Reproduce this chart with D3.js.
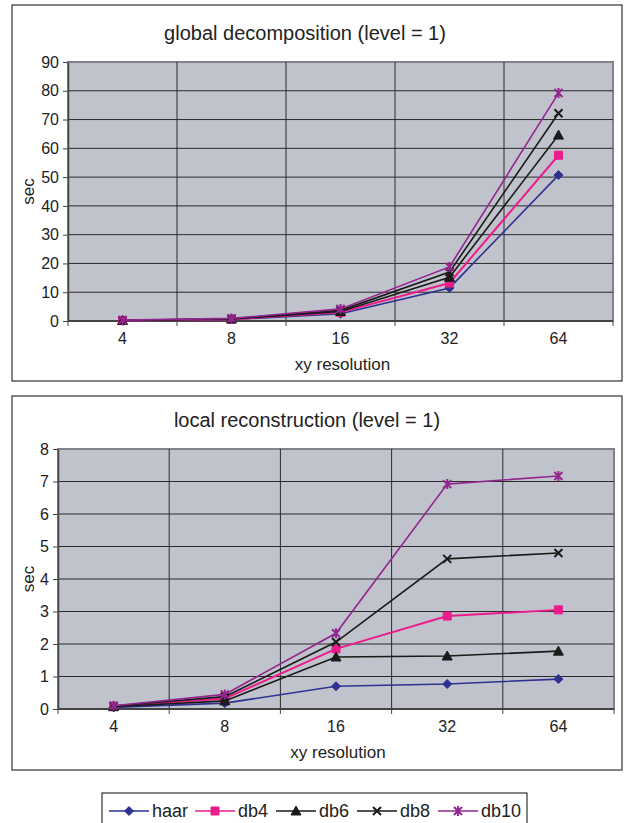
<!DOCTYPE html>
<html lang="en">
<head>
    <meta charset="utf-8">
    <title>Wavelet timings</title>
    <script src="https://d3js.org/d3.v7.min.js"></script>
    <style>
        body { margin: 0; background: #fff; }
        text { font-family: "Liberation Sans", Arial, sans-serif; fill: #222; }
    </style>
</head>
<body>
<div id="chart"></div>
<script>
    // categories on the x axis
    const resolutions = ["4", "8", "16", "32", "64"];
    const seriesNames = ["haar", "db4", "db6", "db8", "db10"];
    const seriesColors = ["#2e3192", "#ec1c8c", "#1a1a1a", "#1a1a1a", "#92278f"];
    const seriesMarkers = ["diamond", "square", "triangle", "cross", "star"];

    // global decomposition (level = 1), seconds
    const globalHaar = [0.1, 0.5, 2.5, 11.5, 50.7];
    const globalDb4  = [0.15, 0.6, 3.0, 13.2, 57.6];
    const globalDb6  = [0.2, 0.7, 3.3, 15.2, 64.6];
    const globalDb8  = [0.25, 0.8, 3.7, 17.0, 72.2];
    const globalDb10 = [0.3, 0.9, 4.2, 18.8, 79.2];
    const globalTicks = [0, 10, 20, 30, 40, 50, 60, 70, 80, 90];

    // local reconstruction (level = 1), seconds
    const localHaar = [0.05, 0.18, 0.7, 0.77, 0.92];
    const localDb4  = [0.08, 0.32, 1.85, 2.86, 3.05];
    const localDb6  = [0.07, 0.25, 1.6, 1.63, 1.78];
    const localDb8  = [0.09, 0.38, 2.06, 4.62, 4.8];
    const localDb10 = [0.1, 0.45, 2.33, 6.92, 7.17];
    const localTicks = [0, 1, 2, 3, 4, 5, 6, 7, 8];

    const svg = d3.select("#chart").append("svg")
        .attr("width", 626)
        .attr("height", 823);

    function markerPath(kind, x, y) {
        const s = 4.5;
        if (kind === "diamond") return `M${x},${y - s}L${x + s},${y}L${x},${y + s}L${x - s},${y}Z`;
        if (kind === "square") return `M${x - 4},${y - 4}h8v8h-8Z`;
        if (kind === "triangle") return `M${x},${y - 5}L${x + 5},${y + 4}L${x - 5},${y + 4}Z`;
        if (kind === "cross") return `M${x - 4},${y - 4}L${x + 4},${y + 4}M${x - 4},${y + 4}L${x + 4},${y - 4}`;
        return `M${x - 4},${y - 4}L${x + 4},${y + 4}M${x - 4},${y + 4}L${x + 4},${y - 4}M${x},${y - 5}L${x},${y + 5}`;
    }

    function drawMarker(g, kind, color, x, y) {
        const open = kind === "cross" || kind === "star";
        g.append("path")
            .attr("d", markerPath(kind, x, y))
            .attr("fill", open ? "none" : color)
            .attr("stroke", color)
            .attr("stroke-width", open ? 2 : 1);
    }

    function drawPanel(opts) {
        const g = svg.append("g");
        // outer frame
        g.append("rect")
            .attr("x", opts.box[0]).attr("y", opts.box[1])
            .attr("width", opts.box[2]).attr("height", opts.box[3])
            .attr("fill", "#fff").attr("stroke", "#333").attr("stroke-width", 1.2);

        const x = d3.scaleBand().domain(resolutions).range([opts.plot.left, opts.plot.right]);
        const y = d3.scaleLinear().domain([0, opts.max]).range([opts.plot.bottom, opts.plot.top]);

        g.append("rect")
            .attr("x", opts.plot.left).attr("y", opts.plot.top)
            .attr("width", opts.plot.right - opts.plot.left)
            .attr("height", opts.plot.bottom - opts.plot.top)
            .attr("fill", "#c0c3cb")
            .attr("stroke", "#80848a").attr("stroke-width", 2);

        // horizontal gridlines
        g.append("g").selectAll("line")
            .data(opts.ticks.slice(1, -1))
            .join("line")
            .attr("x1", opts.plot.left).attr("x2", opts.plot.right)
            .attr("y1", d => y(d)).attr("y2", d => y(d))
            .attr("stroke", "#2a2a2a").attr("stroke-width", 1);

        // vertical gridlines at band edges
        g.append("g").selectAll("line")
            .data(resolutions.slice(1))
            .join("line")
            .attr("x1", d => x(d)).attr("x2", d => x(d))
            .attr("y1", opts.plot.top).attr("y2", opts.plot.bottom)
            .attr("stroke", "#2a2a2a").attr("stroke-width", 1);

        // y axis
        const yAxis = g.append("g")
            .attr("transform", `translate(${opts.plot.left},0)`)
            .call(d3.axisLeft(y).tickValues(opts.ticks).tickSize(5).tickSizeOuter(0).tickPadding(4));
        yAxis.select(".domain").attr("stroke", "#444").attr("stroke-width", 1.5);
        yAxis.selectAll(".tick line").attr("stroke", "#444");
        yAxis.selectAll("text").style("font-size", "16px").attr("fill", "#222");

        // x axis, ticks at band edges
        const xAxis = g.append("g")
            .attr("transform", `translate(0,${opts.plot.bottom})`);
        xAxis.append("line")
            .attr("x1", opts.plot.left).attr("x2", opts.plot.right)
            .attr("stroke", "#444").attr("stroke-width", 2);
        xAxis.selectAll(".edge")
            .data(resolutions.map(d => x(d)).concat([opts.plot.right]))
            .join("line")
            .attr("x1", d => d).attr("x2", d => d)
            .attr("y1", 0).attr("y2", 5)
            .attr("stroke", "#444");
        xAxis.selectAll(".lbl")
            .data(resolutions)
            .join("text")
            .attr("x", d => x(d) + x.bandwidth() / 2)
            .attr("y", 23)
            .attr("text-anchor", "middle")
            .style("font-size", "16px")
            .text(d => d);

        // titles
        g.append("text")
            .attr("x", opts.titleX).attr("y", opts.titleY)
            .attr("text-anchor", "middle")
            .style("font-size", "20px")
            .text(opts.title);
        g.append("text")
            .attr("x", (opts.plot.left + opts.plot.right) / 2 + 2)
            .attr("y", opts.plot.bottom + 49)
            .attr("text-anchor", "middle")
            .style("font-size", "17px")
            .text("xy resolution");
        g.append("text")
            .attr("transform", `translate(${opts.box[0] + 22},${(opts.plot.top + opts.plot.bottom) / 2}) rotate(-90)`)
            .attr("text-anchor", "middle")
            .style("font-size", "17px")
            .text("sec");

        // series lines and markers
        const line = d3.line()
            .x((d, i) => x(resolutions[i]) + x.bandwidth() / 2)
            .y(d => y(d));
        opts.series.forEach((vals, si) => {
            g.append("path")
                .datum(vals)
                .attr("d", line)
                .attr("fill", "none")
                .attr("stroke", seriesColors[si])
                .attr("stroke-width", si === 1 ? 2 : 1.6);
            vals.forEach((v, i) => drawMarker(g, seriesMarkers[si], seriesColors[si],
                x(resolutions[i]) + x.bandwidth() / 2, y(v)));
        });
    }

    drawPanel({
        title: "global decomposition (level = 1)",
        titleX: 305, titleY: 40,
        box: [12, 5, 610, 376],
        plot: {left: 68, right: 613, top: 62, bottom: 321},
        max: 90,
        ticks: globalTicks,
        series: [globalHaar, globalDb4, globalDb6, globalDb8, globalDb10]
    });

    drawPanel({
        title: "local reconstruction (level = 1)",
        titleX: 307, titleY: 427,
        box: [12, 396, 610, 374],
        plot: {left: 58, right: 614, top: 449, bottom: 709},
        max: 8,
        ticks: localTicks,
        series: [localHaar, localDb4, localDb6, localDb8, localDb10]
    });

    // legend
    const legend = svg.append("g");
    legend.append("rect")
        .attr("x", 102).attr("y", 793)
        .attr("width", 425).attr("height", 40)
        .attr("fill", "#fff").attr("stroke", "#333").attr("stroke-width", 1.2);
    const legendX = [109, 195, 276, 357, 438];
    seriesNames.forEach((name, i) => {
        const lx = legendX[i];
        legend.append("line")
            .attr("x1", lx).attr("x2", lx + 40)
            .attr("y1", 811).attr("y2", 811)
            .attr("stroke", seriesColors[i]).attr("stroke-width", 1.6);
        drawMarker(legend, seriesMarkers[i], seriesColors[i], lx + 20, 811);
        legend.append("text")
            .attr("x", lx + 43).attr("y", 817)
            .style("font-size", "18px")
            .text(name);
    });
</script>
</body>
</html>
